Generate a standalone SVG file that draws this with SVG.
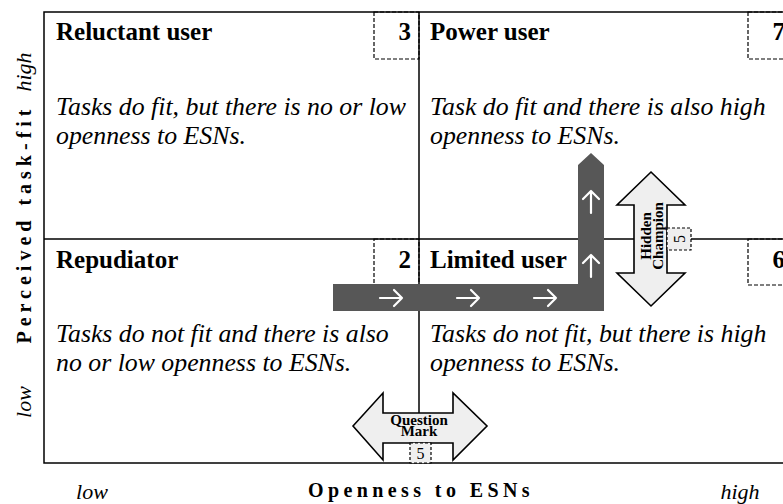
<svg xmlns="http://www.w3.org/2000/svg" width="783" height="504" viewBox="0 0 783 504">
  <style>
    .title { font-family: "Liberation Serif", "Times New Roman", serif; font-weight: bold; font-size: 25px; fill: #000; }
    .num { font-family: "Liberation Serif", "Times New Roman", serif; font-weight: bold; font-size: 25px; fill: #000; text-anchor: end; }
    .desc { font-family: "Liberation Serif", "Times New Roman", serif; font-style: italic; font-size: 25.8px; fill: #000; }
    .axis { font-family: "Liberation Serif", "Times New Roman", serif; font-weight: bold; font-size: 20px; fill: #000; text-anchor: middle; }
    .tick { font-family: "Liberation Serif", "Times New Roman", serif; font-style: italic; font-size: 22px; fill: #000; text-anchor: middle; }
    .frame { fill: none; stroke: #000; stroke-width: 1.5; }
    .dash { fill: none; stroke: #000; stroke-width: 1.2; stroke-dasharray: 4 2; }
    .dashfill { fill: #efefef; stroke: #000; stroke-width: 1.2; stroke-dasharray: 3 2; }
    .dbl { fill: #efefef; stroke: #000; stroke-width: 1.6; stroke-linejoin: miter; }
    .dbltext { font-family: "Liberation Serif", "Times New Roman", serif; font-weight: bold; font-size: 15px; fill: #000; text-anchor: middle; }
    .small { font-family: "Liberation Serif", "Times New Roman", serif; font-size: 16px; fill: #000; text-anchor: middle; }
    .path { fill: #575757; stroke: none; }
    .glyph { fill: none; stroke: #fff; stroke-width: 2.2; stroke-linecap: round; stroke-linejoin: round; }
  </style>

  <!-- matrix frame and quadrant dividers -->
  <g id="matrix">
    <rect class="frame" x="44" y="12" width="760" height="451"/>
    <line class="frame" x1="419" y1="12" x2="419" y2="463"/>
    <line class="frame" x1="44" y1="239" x2="790" y2="239"/>
  </g>

  <!-- quadrants -->
  <g id="reluctant-user">
    <rect class="dash" x="374" y="12" width="45" height="47"/>
    <text class="title" x="56" y="40">Reluctant user</text>
    <text class="num" x="411" y="40">3</text>
    <text class="desc" x="56" y="115">Tasks do fit, but there is no or low</text>
    <text class="desc" x="56" y="144">openness to ESNs.</text>
  </g>

  <g id="power-user">
    <rect class="dash" x="748" y="12" width="45" height="47"/>
    <text class="title" x="430" y="40">Power user</text>
    <text class="num" x="785" y="40">7</text>
    <text class="desc" x="430" y="115">Task do fit and there is also high</text>
    <text class="desc" x="430" y="144">openness to ESNs.</text>
  </g>

  <g id="repudiator">
    <rect class="dash" x="374" y="239" width="45" height="46"/>
    <text class="title" x="56" y="268">Repudiator</text>
    <text class="num" x="411" y="268">2</text>
    <text class="desc" x="56" y="342">Tasks do not fit and there is also</text>
    <text class="desc" x="56" y="371">no or low openness to ESNs.</text>
  </g>

  <g id="limited-user">
    <rect class="dash" x="748" y="239" width="45" height="46"/>
    <text class="title" x="430" y="268">Limited user</text>
    <text class="num" x="785" y="268">6</text>
    <text class="desc" x="430" y="342">Tasks do not fit, but there is high</text>
    <text class="desc" x="430" y="371">openness to ESNs.</text>
  </g>

  <!-- axes -->
  <g id="axis-x">
    <text class="tick" x="92" y="499">low</text>
    <text class="axis" x="421" y="497" letter-spacing="4.4">Openness to ESNs</text>
    <text class="tick" x="740" y="499">high</text>
  </g>
  <g id="axis-y">
    <text class="tick" transform="translate(31,72) rotate(-90)">high</text>
    <text class="axis" transform="translate(31,224) rotate(-90)" letter-spacing="5">Perceived task-fit</text>
    <text class="tick" transform="translate(31,402) rotate(-90)">low</text>
  </g>

  <!-- connectors: adoption path and transition arrows -->
  <g id="connectors">
    <g id="adoption-path">
      <polygon class="path" points="333,284 578,284 578,165 591,153 604,165 604,311 333,311"/>
      <path class="glyph" d="M380,298 H402 M394,290 L402,298 L394,306"/>
      <path class="glyph" d="M457,298 H479 M471,290 L479,298 L471,306"/>
      <path class="glyph" d="M534,298 H556 M548,290 L556,298 L548,306"/>
      <path class="glyph" d="M591,213 V191 M583,199 L591,191 L599,199"/>
      <path class="glyph" d="M591,277 V255 M583,263 L591,255 L599,263"/>
    </g>

    <g id="hidden-champion">
      <polygon class="dbl" points="651,172 685,205 667,205 667,273 685,273 651,306 617,273 634,273 634,205 617,205"/>
      <text class="dbltext" transform="translate(651,236) rotate(-90)">Hidden</text>
      <text class="dbltext" transform="translate(663,236) rotate(-90)">Champion</text>
      <rect class="dashfill" x="667" y="228" width="24" height="22"/>
      <text class="small" transform="translate(685,239) rotate(-90)">5</text>
    </g>

    <g id="question-mark">
      <polygon class="dbl" points="353,426 383,393 383,413 453,413 453,393 487,426 453,460 453,443 383,443 383,460"/>
      <text class="dbltext" x="419" y="425">Question</text>
      <text class="dbltext" x="419" y="436">Mark</text>
      <rect class="dashfill" x="410" y="443" width="21" height="20"/>
      <text class="small" x="420.5" y="459">5</text>
    </g>
  </g>
</svg>
